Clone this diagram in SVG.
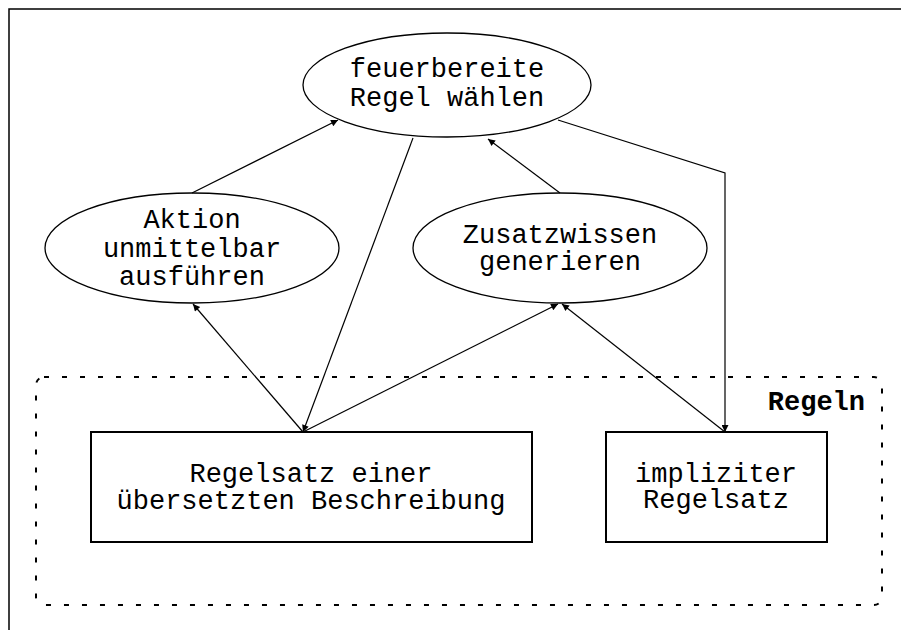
<svg xmlns="http://www.w3.org/2000/svg" width="901" height="630" viewBox="0 0 901 630">
  <style>
    .node-shape { fill: #ffffff; stroke: #000000; stroke-width: 1.3; }
    .box { fill: #ffffff; stroke: #000000; stroke-width: 2; }
    .label { font-family: "Liberation Mono", "Courier New", monospace; font-size: 27px; fill: #000000; text-anchor: middle; }
    .title { font-family: "Liberation Mono", "Courier New", monospace; font-size: 27px; font-weight: bold; fill: #000000; text-anchor: end; }
    .edge { fill: none; stroke: #000000; stroke-width: 1.2; marker-end: url(#arrow); }
    .cluster { fill: none; stroke: #000000; stroke-width: 2; stroke-dasharray: 5 13; }
  </style>
  <defs>
    <marker id="arrow" viewBox="0 0 10 10" refX="10" refY="5" markerWidth="10" markerHeight="7" markerUnits="userSpaceOnUse" orient="auto">
      <path d="M0,0 L10,5 L0,10 z" fill="#000000"/>
    </marker>
  </defs>

  <rect width="901" height="630" fill="#ffffff"/>
  <!-- outer frame -->
  <rect x="9" y="9" width="910" height="640" fill="none" stroke="#000000" stroke-width="1.5"/>

  <!-- cluster "Regeln" -->
  <g id="cluster-regeln">
    <rect class="cluster" x="36" y="377" width="846" height="228" rx="8" ry="8"/>
    <text class="title" x="865" y="410">Regeln</text>
  </g>

  <g id="node-waehlen">
    <ellipse class="node-shape" cx="447" cy="85" rx="144" ry="52"/>
    <text class="label" x="447" y="77">feuerbereite</text>
    <text class="label" x="447" y="106">Regel wählen</text>
  </g>

  <g id="node-aktion">
    <ellipse class="node-shape" cx="192" cy="248" rx="147" ry="55"/>
    <text class="label" x="192" y="228">Aktion</text>
    <text class="label" x="192" y="257">unmittelbar</text>
    <text class="label" x="192" y="285">ausführen</text>
  </g>

  <g id="node-zusatz">
    <ellipse class="node-shape" cx="560" cy="248" rx="147" ry="55"/>
    <text class="label" x="560" y="243">Zusatzwissen</text>
    <text class="label" x="560" y="270">generieren</text>
  </g>

  <g id="node-regelsatz">
    <rect class="box" x="91" y="432" width="441" height="110"/>
    <text class="label" x="311" y="482">Regelsatz einer</text>
    <text class="label" x="311" y="509">übersetzten Beschreibung</text>
  </g>

  <g id="node-implizit">
    <rect class="box" x="606" y="432" width="221" height="110"/>
    <text class="label" x="716" y="482">impliziter</text>
    <text class="label" x="716" y="508">Regelsatz</text>
  </g>

  <g id="connectors">
    <path class="edge" d="M192,193 L338,120"/>
    <path class="edge" d="M413,138 L303,432"/>
    <path class="edge" d="M560,193 L488,139"/>
    <path class="edge" d="M558,120 L725,173 L725,432"/>
    <path class="edge" d="M303,432 L193,304"/>
    <path class="edge" d="M303,432 L558,304"/>
    <path class="edge" d="M725,432 L562,304"/>
  </g>
</svg>
